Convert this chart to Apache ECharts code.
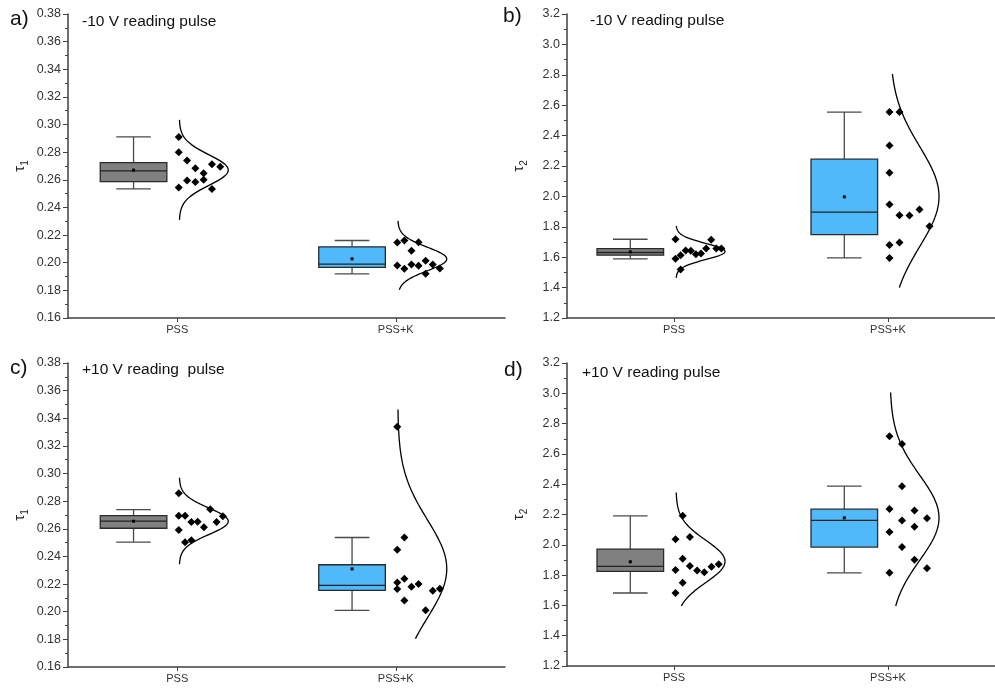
<!DOCTYPE html>
<html>
<head>
<meta charset="utf-8">
<script src="https://cdn.jsdelivr.net/npm/echarts@6/dist/echarts.min.js"></script>
<style>
  html, body { margin: 0; padding: 0; background: #fff; }
  #chart { width: 995px; height: 694px; }
</style>
</head>
<body>
<div id="chart"></div>
<script>
// categories and panel texts
const categories = ['PSS', 'PSS+K'];
const panelLetters = ['a)', 'b)', 'c)', 'd)'];
const panelTitles = ['-10 V reading pulse', '-10 V reading pulse', '+10 V reading  pulse', '+10 V reading pulse'];
const yNameSub = ['1', '2', '1', '2'];
// y axis: [min, max, interval, decimals]
const yScales = [[0.16, 0.38, 0.02, 2], [1.2, 3.2, 0.2, 1], [0.16, 0.38, 0.02, 2], [1.2, 3.2, 0.2, 1]];

// raw points per panel: [PSS, PSS+K]
const pointsA = [
  [0.291, 0.280, 0.274, 0.2684, 0.2648, 0.2713, 0.2694, 0.2595, 0.2585, 0.260, 0.2544, 0.2534],
  [0.2146, 0.2161, 0.2149, 0.2086, 0.198, 0.1956, 0.1988, 0.1978, 0.2014, 0.1988, 0.1959, 0.1920]
];
const pointsB = [
  [1.718, 1.589, 1.613, 1.644, 1.642, 1.620, 1.624, 1.657, 1.714, 1.657, 1.657, 1.519],
  [2.555, 2.555, 2.335, 2.155, 1.947, 1.876, 1.874, 1.914, 1.804, 1.681, 1.697, 1.595]
];
const pointsC = [
  [0.2857, 0.2695, 0.2695, 0.2592, 0.265, 0.2652, 0.2612, 0.2503, 0.2518, 0.2741, 0.265, 0.2691],
  [0.3338, 0.2537, 0.2448, 0.2238, 0.2212, 0.2164, 0.2181, 0.220, 0.2152, 0.2166, 0.2082, 0.201]
];
const pointsD = [
  [2.191, 2.036, 2.051, 1.908, 1.860, 1.833, 1.831, 1.818, 1.855, 1.871, 1.749, 1.682],
  [2.717, 2.666, 2.387, 2.237, 2.227, 2.176, 2.161, 2.119, 2.084, 1.985, 1.901, 1.846, 1.815]
];
// which jitter column each point sits in
const colsA = [[0, 0, 1, 2, 3, 4, 5, 1, 2, 3, 0, 4], [0, 1, 3, 2, 0, 1, 2, 3, 4, 5, 6, 4]];
const colsB = [[0, 0, 1, 2, 3, 4, 5, 6, 7, 8, 9, 1], [0, 1, 0, 0, 0, 1, 2, 3, 4, 0, 1, 0]];
const colsC = [[0, 0, 1, 0, 2, 3, 4, 1, 2, 5, 6, 7], [0, 1, 0, 1, 0, 0, 2, 3, 5, 6, 1, 4]];
const colsD = [[1, 0, 2, 1, 2, 0, 3, 4, 5, 6, 1, 0], [0, 1, 1, 0, 2, 3, 1, 2, 0, 1, 2, 3, 0]];

// box stats: [lower whisker, q1, median, q3, upper whisker, mean]
const boxA = [[0.2534, 0.2587, 0.2665, 0.2724, 0.2911, 0.267], [0.192, 0.1966, 0.199, 0.2115, 0.2161, 0.2028]];
const boxB = [[1.589, 1.613, 1.631, 1.657, 1.718, 1.635], [1.595, 1.749, 1.896, 2.245, 2.555, 1.997]];
const boxC = [[0.2503, 0.2604, 0.2655, 0.2695, 0.2739, 0.2655], [0.201, 0.2154, 0.219, 0.234, 0.2537, 0.231]];
const boxD = [[1.682, 1.825, 1.858, 1.972, 2.191, 1.888], [1.815, 1.985, 2.161, 2.235, 2.387, 2.178]];

// vertical extent of the normal curves: [from, to]
const curveA = [[0.231, 0.3034], [0.1804, 0.2303]];
const curveB = [[1.464, 1.806], [1.40, 2.805]];
const curveC = [[0.2344, 0.297], [0.1805, 0.3463]];
const curveD = [[1.596, 2.345], [1.596, 3.005]];

const allPoints = [pointsA, pointsB, pointsC, pointsD];
const allCols = [colsA, colsB, colsC, colsD];
const allBoxes = [boxA, boxB, boxC, boxD];
const allCurves = [curveA, curveB, curveC, curveD];

// layout
const FONT = '"Liberation Sans", Arial, sans-serif';
const AXIS = '#404040';
const boxFill = ['#808080', '#4FB9F9'];
const colGap = [[8.3, 7.1], [5.1, 10], [6.3, 7.1], [7.2, 12.5]];
const grids = [
  { left: 68, top: 14, width: 437, height: 304 },
  { left: 567, top: 14, width: 437, height: 304 },
  { left: 68, top: 363, width: 437, height: 304 },
  { left: 567, top: 363, width: 437, height: 303 }
];
const letterPos = [[10, 9], [503, 6], [10, 358], [504, 360]];
const titlePos = [[82, 14], [590, 13], [82, 362], [582, 365]];

function meanSd(arr) {
  const m = arr.reduce((a, b) => a + b, 0) / arr.length;
  const s = Math.sqrt(arr.reduce((a, b) => a + (b - m) * (b - m), 0) / (arr.length - 1));
  return [m, s];
}

function renderBox(params, api) {
  const g = api.value(0);
  const y = i => api.coord([g, api.value(i)])[1];
  const cx = api.coord([g, api.value(3)])[0] - 43.7;
  const hw = 33.3, cap = 17.3;
  const wl = { stroke: '#4a4a4a', lineWidth: 1.3 };
  const fill = boxFill[g - 1];
  return {
    type: 'group',
    children: [
      { type: 'line', shape: { x1: cx, y1: y(4), x2: cx, y2: y(5) }, style: wl },
      { type: 'line', shape: { x1: cx, y1: y(2), x2: cx, y2: y(1) }, style: wl },
      { type: 'line', shape: { x1: cx - cap, y1: y(5), x2: cx + cap, y2: y(5) }, style: wl },
      { type: 'line', shape: { x1: cx - cap, y1: y(1), x2: cx + cap, y2: y(1) }, style: wl },
      { type: 'rect', shape: { x: cx - hw, y: y(4), width: hw * 2, height: y(2) - y(4) },
        style: { fill: fill, stroke: '#2b2b2b', lineWidth: 1.3 } },
      { type: 'line', shape: { x1: cx - hw, y1: y(3), x2: cx + hw, y2: y(3) }, style: { stroke: '#222', lineWidth: 1.3 } },
      { type: 'rect', shape: { x: cx - 1.5, y: y(6) - 1.5, width: 3, height: 3 }, style: { fill: '#000' } }
    ]
  };
}

function renderCurve(params, api) {
  const g = api.value(0), lo = api.value(1), hi = api.value(2), mu = api.value(3), sd = api.value(4);
  const pts = [];
  for (let i = 0; i <= 100; i++) {
    const v = lo + (hi - lo) * i / 100;
    const p = api.coord([g, v]);
    const z = (v - mu) / sd;
    pts.push([p[0] + 2 + 49 * Math.exp(-z * z / 2), p[1]]);
  }
  return { type: 'polyline', shape: { points: pts }, style: { stroke: '#000', lineWidth: 1.3, fill: null } };
}

const xAxes = [], yAxes = [], series = [], graphics = [];
grids.forEach((gr, i) => {
  xAxes.push({
    gridIndex: i, type: 'value', min: 0.5, max: 2.5,
    axisLine: { show: true, onZero: false, lineStyle: { color: AXIS, width: 1.5 } },
    axisTick: { show: true, customValues: [1, 2], length: 4, lineStyle: { color: AXIS } },
    axisLabel: { customValues: [1, 2], formatter: v => categories[Math.round(v) - 1], fontSize: 11,
      color: '#333', margin: 6, fontFamily: FONT },
    splitLine: { show: false }
  });
  const ys = yScales[i];
  yAxes.push({
    gridIndex: i, type: 'value', min: ys[0], max: ys[1], interval: ys[2],
    axisLine: { show: true, onZero: false, lineStyle: { color: AXIS, width: 1.5 } },
    axisTick: { show: true, length: 5, lineStyle: { color: AXIS } },
    minorTick: { show: true, splitNumber: 2, length: 3, lineStyle: { color: AXIS } },
    axisLabel: { formatter: v => v.toFixed(ys[3]), fontSize: 12.5, color: '#333', margin: 7, fontFamily: FONT },
    splitLine: { show: false },
    name: '{t|τ}{s|' + yNameSub[i] + '}', nameLocation: 'middle', nameGap: 38, nameRotate: 90,
    nameTextStyle: {
      rich: {
        t: { fontSize: 15, fontFamily: FONT, color: '#222', lineHeight: 20, verticalAlign: 'middle' },
        s: { fontSize: 10, fontFamily: FONT, color: '#222', lineHeight: 20, verticalAlign: 'bottom', padding: [7, 0, 0, 0] }
      }
    }
  });

  [0, 1].forEach(k => {
    const g = k + 1;
    const vals = allPoints[i][k];
    const b = allBoxes[i][k];
    const [mu, sd] = meanSd(vals);
    series.push({
      type: 'custom', xAxisIndex: i, yAxisIndex: i, renderItem: renderBox,
      encode: { x: 0, y: [1, 2, 3, 4, 5, 6] },
      data: [[g, b[0], b[1], b[2], b[3], b[4], b[5]]]
    });
    series.push({
      type: 'scatter', xAxisIndex: i, yAxisIndex: i, symbol: 'diamond', symbolSize: 8,
      itemStyle: { color: '#000', opacity: 1 },
      data: vals.map((v, n) => ({ value: [g, v], symbolOffset: [1.5 + allCols[i][k][n] * colGap[i][k], 0] }))
    });
    series.push({
      type: 'custom', xAxisIndex: i, yAxisIndex: i, renderItem: renderCurve,
      encode: { x: 0, y: [1, 2] },
      data: [[g, allCurves[i][k][0], allCurves[i][k][1], mu, sd]]
    });
  });

  graphics.push({
    type: 'text', left: letterPos[i][0], top: letterPos[i][1],
    style: { text: panelLetters[i], font: '21px ' + FONT, fill: '#111' }
  });
  graphics.push({
    type: 'text', left: titlePos[i][0], top: titlePos[i][1],
    style: { text: panelTitles[i], font: '15.5px ' + FONT, fill: '#111' }
  });
});

const chart = echarts.init(document.getElementById('chart'));
chart.setOption({
  animation: false,
  backgroundColor: '#fff',
  grid: grids,
  xAxis: xAxes,
  yAxis: yAxes,
  series: series,
  graphic: graphics
});
</script>
</body>
</html>
